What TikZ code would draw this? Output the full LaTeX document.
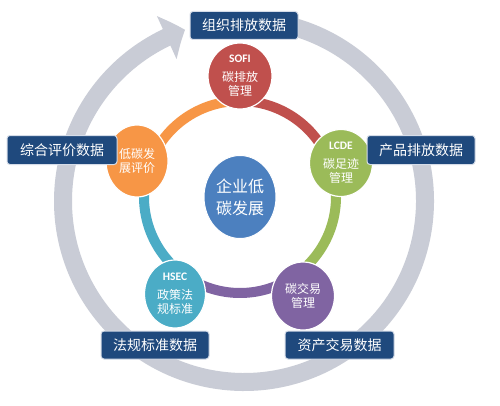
\documentclass[tikz,border=0pt]{standalone}
\usepackage{fontspec}
\newfontfamily\cjk{Noto Sans CJK SC}
\newfontfamily\lat{Carlito}
\usetikzlibrary{arrows.meta,bending,shapes.geometric}
\definecolor{ringgrey}{HTML}{C9CCD6}
\definecolor{labblue}{HTML}{1F497D}
\definecolor{labedge}{HTML}{D5DCE8}
\definecolor{coreblue}{HTML}{4C80BF}
\definecolor{cred}{HTML}{C0504D}
\definecolor{cgreen}{HTML}{9BBB59}
\definecolor{cpurple}{HTML}{8064A2}
\definecolor{ccyan}{HTML}{4BACC6}
\definecolor{corange}{HTML}{F79646}
\tikzset{
  ringarrow/.style={draw=ringgrey, line width=18pt, -{Triangle[width=46pt,length=20pt,bend]}},
  seg/.style={line width=10pt},
  sat/.style={ellipse, draw=white, line width=1.2pt, inner sep=0pt, text=white, align=center,
    font=\cjk\fontsize{12}{14}\selectfont},
  corestyle/.style={ellipse, fill=coreblue, draw=white, line width=1pt, inner sep=0pt, text=white,
    align=center, minimum width=72pt, minimum height=83pt, font=\cjk\fontsize{16}{22}\selectfont},
  lab/.style={rectangle, rounded corners=3pt, fill=labblue, draw=labedge, line width=1pt,
    text=white, minimum width=108pt, minimum height=28pt, inner sep=0pt,
    font=\cjk\fontsize{14}{16}\selectfont}
}
\newcommand{\abbr}[1]{{\lat\bfseries\fontsize{11.5}{12}\selectfont #1}}
\begin{document}
\begin{tikzpicture}[x=1pt,y=1pt]
\useasboundingbox (0,0) rectangle (500,405);
\fill[white] (0,0) rectangle (500,405);
\coordinate (oc) at (244,204);
\coordinate (ic) at (240,208);
% outer grey cycle arrow
\draw[ringarrow] ([shift={(85:181)}]oc) arc[start angle=85,end angle=-251,radius=181];
% inner ring segments
\draw[seg, cred] ([shift={(90:96)}]ic) arc[start angle=90,end angle=18.6,radius=96];
\draw[seg, cgreen] ([shift={(18.6:96)}]ic) arc[start angle=18.6,end angle=-57.5,radius=96];
\draw[seg, cpurple] ([shift={(-57.5:96)}]ic) arc[start angle=-57.5,end angle=-123.8,radius=96];
\draw[seg, ccyan] ([shift={(-123.8:96)}]ic) arc[start angle=-123.8,end angle=-199.3,radius=96];
\draw[seg, corange] ([shift={(160.7:96)}]ic) arc[start angle=160.7,end angle=90,radius=96];
% centre
\node[corestyle] (core) at (240,208) {企业低\\碳发展};
% satellites
\node[sat, fill=cred, minimum width=64pt, minimum height=66pt] (sofi) at (240,329)
  {\abbr{SOFI}\\[5pt]碳排放\\管理};
\node[sat, fill=cgreen, minimum width=63pt, minimum height=67pt] (lcde) at (341,242)
  {\abbr{LCDE}\\[5pt]碳足迹\\管理};
\node[sat, fill=cpurple, minimum width=63pt, minimum height=68pt] (trade) at (303,109)
  {碳交易\\管理};
\node[sat, fill=ccyan, minimum width=61pt, minimum height=68pt] (hsec) at (175,111)
  {\abbr{HSEC}\\[5pt]政策法\\规标准};
\node[sat, fill=corange, minimum width=62pt, minimum height=72pt] (eval) at (137,244)
  {低碳发\\展评价};
% data labels
\node[lab] (lorg) at (244,379.5) {组织排放数据};
\node[lab, minimum height=29pt] (lprod) at (421,255) {产品排放数据};
\node[lab, minimum width=110pt, minimum height=29pt] (leval) at (62,255) {综合评价数据};
\node[lab] (lreg) at (155,60) {法规标准数据};
\node[lab, minimum width=109pt] (lasset) at (339.5,60) {资产交易数据};
\end{tikzpicture}
\end{document}
